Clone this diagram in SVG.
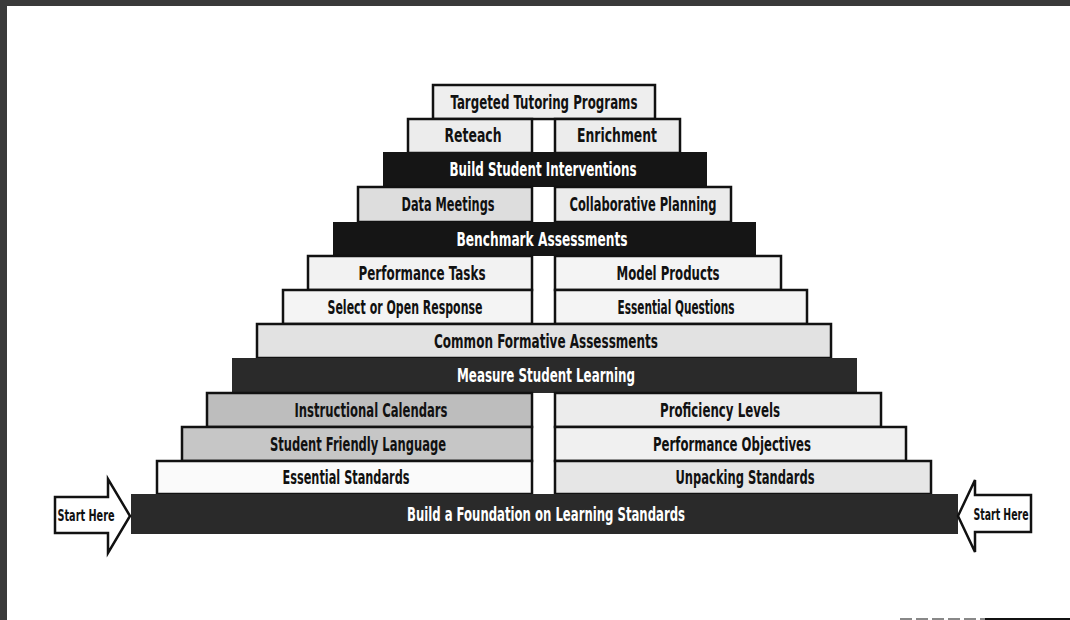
<svg xmlns="http://www.w3.org/2000/svg" width="1070" height="620" viewBox="0 0 1070 620">
<style>
.box{stroke:#111;stroke-width:2.5}
.dark{fill:#151515}
.dark2{fill:#2a2a2a}
.t{font-family:"DejaVu Sans Condensed","Liberation Sans Narrow","Liberation Sans",sans-serif;font-weight:bold;font-size:19px;text-anchor:middle}
.tb{fill:#111}
.tw{fill:#fff}
.arrow{fill:#fff;stroke:#111;stroke-width:2.5;stroke-linejoin:miter}
.sh{font-family:"DejaVu Sans Condensed","Liberation Sans Narrow","Liberation Sans",sans-serif;font-weight:bold;font-size:15px;text-anchor:middle;fill:#111}
</style>
<rect x="0" y="0" width="1070" height="620" fill="#fff"/>
<rect x="0" y="0" width="1070" height="6" fill="#3a3a3a"/>
<rect x="0" y="0" width="7" height="620" fill="#3a3a3a"/>
<line x1="900" y1="619" x2="985" y2="619" stroke="#888" stroke-width="2" stroke-dasharray="12 4"/>
<line x1="985" y1="619" x2="1070" y2="619" stroke="#111" stroke-width="2"/>

<g id="r1-targeted"><rect class="box" x="433" y="85" width="222" height="34" fill="#eeeeee"/><text class="t tb" x="544" y="109" textLength="187" lengthAdjust="spacingAndGlyphs">Targeted Tutoring Programs</text></g>
<g id="r2-reteach"><rect class="box" x="408" y="119" width="124" height="34" fill="#ececec"/><text class="t tb" x="473" y="142" textLength="57" lengthAdjust="spacingAndGlyphs">Reteach</text></g>
<g id="r2-enrichment"><rect class="box" x="555" y="119" width="125" height="34" fill="#ececec"/><text class="t tb" x="617" y="142" textLength="80" lengthAdjust="spacingAndGlyphs">Enrichment</text></g>
<g id="r3-interventions"><rect class="dark" x="383" y="152" width="324" height="35"/><text class="t tw" x="543" y="176" textLength="187" lengthAdjust="spacingAndGlyphs">Build Student Interventions</text></g>
<g id="r4-data"><rect class="box" x="358" y="187" width="174" height="35" fill="#dddddd"/><text class="t tb" x="448" y="211" textLength="93" lengthAdjust="spacingAndGlyphs">Data Meetings</text></g>
<g id="r4-collab"><rect class="box" x="555" y="187" width="176" height="35" fill="#ebebeb"/><text class="t tb" x="643" y="211" textLength="147" lengthAdjust="spacingAndGlyphs">Collaborative Planning</text></g>
<g id="r5-benchmark"><rect class="dark" x="333" y="222" width="423" height="34"/><text class="t tw" x="542" y="246" textLength="171" lengthAdjust="spacingAndGlyphs">Benchmark Assessments</text></g>
<g id="r6-performance-tasks"><rect class="box" x="308" y="256" width="224" height="34" fill="#f2f2f2"/><text class="t tb" x="422" y="280" textLength="127" lengthAdjust="spacingAndGlyphs">Performance Tasks</text></g>
<g id="r6-model"><rect class="box" x="555" y="256" width="226" height="34" fill="#f4f4f4"/><text class="t tb" x="668" y="280" textLength="103" lengthAdjust="spacingAndGlyphs">Model Products</text></g>
<g id="r7-select"><rect class="box" x="283" y="290" width="249" height="34" fill="#f4f4f4"/><text class="t tb" x="405" y="314" textLength="155" lengthAdjust="spacingAndGlyphs">Select or Open Response</text></g>
<g id="r7-questions"><rect class="box" x="555" y="290" width="252" height="34" fill="#f4f4f4"/><text class="t tb" x="676" y="314" textLength="117" lengthAdjust="spacingAndGlyphs">Essential Questions</text></g>
<g id="r8-common"><rect class="box" x="257" y="324" width="574" height="34" fill="#e2e2e2"/><text class="t tb" x="546" y="348" textLength="224" lengthAdjust="spacingAndGlyphs">Common Formative Assessments</text></g>
<g id="r9-measure"><rect class="dark2" x="232" y="358" width="625" height="35"/><text class="t tw" x="546" y="382" textLength="178" lengthAdjust="spacingAndGlyphs">Measure Student Learning</text></g>
<g id="r10-calendars"><rect class="box" x="207" y="393" width="325" height="34" fill="#bdbdbd"/><text class="t tb" x="371" y="417" textLength="153" lengthAdjust="spacingAndGlyphs">Instructional Calendars</text></g>
<g id="r10-proficiency"><rect class="box" x="555" y="393" width="326" height="34" fill="#ececec"/><text class="t tb" x="720" y="417" textLength="120" lengthAdjust="spacingAndGlyphs">Proficiency Levels</text></g>
<g id="r11-friendly"><rect class="box" x="182" y="427" width="350" height="34" fill="#c6c6c6"/><text class="t tb" x="358" y="451" textLength="176" lengthAdjust="spacingAndGlyphs">Student Friendly Language</text></g>
<g id="r11-objectives"><rect class="box" x="555" y="427" width="351" height="34" fill="#f0f0f0"/><text class="t tb" x="732" y="451" textLength="158" lengthAdjust="spacingAndGlyphs">Performance Objectives</text></g>
<g id="r12-essential"><rect class="box" x="157" y="461" width="375" height="33" fill="#fafafa"/><text class="t tb" x="346" y="484" textLength="127" lengthAdjust="spacingAndGlyphs">Essential Standards</text></g>
<g id="r12-unpacking"><rect class="box" x="555" y="461" width="376" height="33" fill="#e6e6e6"/><text class="t tb" x="745" y="484" textLength="139" lengthAdjust="spacingAndGlyphs">Unpacking Standards</text></g>
<g id="r13-foundation"><rect class="dark2" x="131" y="494" width="827" height="40"/><text class="t tw" x="546" y="521" textLength="278" lengthAdjust="spacingAndGlyphs">Build a Foundation on Learning Standards</text></g>

<g id="connectors">
<g id="start-left"><polygon class="arrow" points="55,497 108,497 108,479 130,516 108,553 108,533 55,533"/><text class="sh" x="86" y="521" textLength="57" lengthAdjust="spacingAndGlyphs">Start Here</text></g>
<g id="start-right"><polygon class="arrow" points="1031,495 975,495 975,480 958,516 975,552 975,532 1031,532"/><text class="sh" x="1001" y="520" textLength="55" lengthAdjust="spacingAndGlyphs">Start Here</text></g>
</g>
</svg>
